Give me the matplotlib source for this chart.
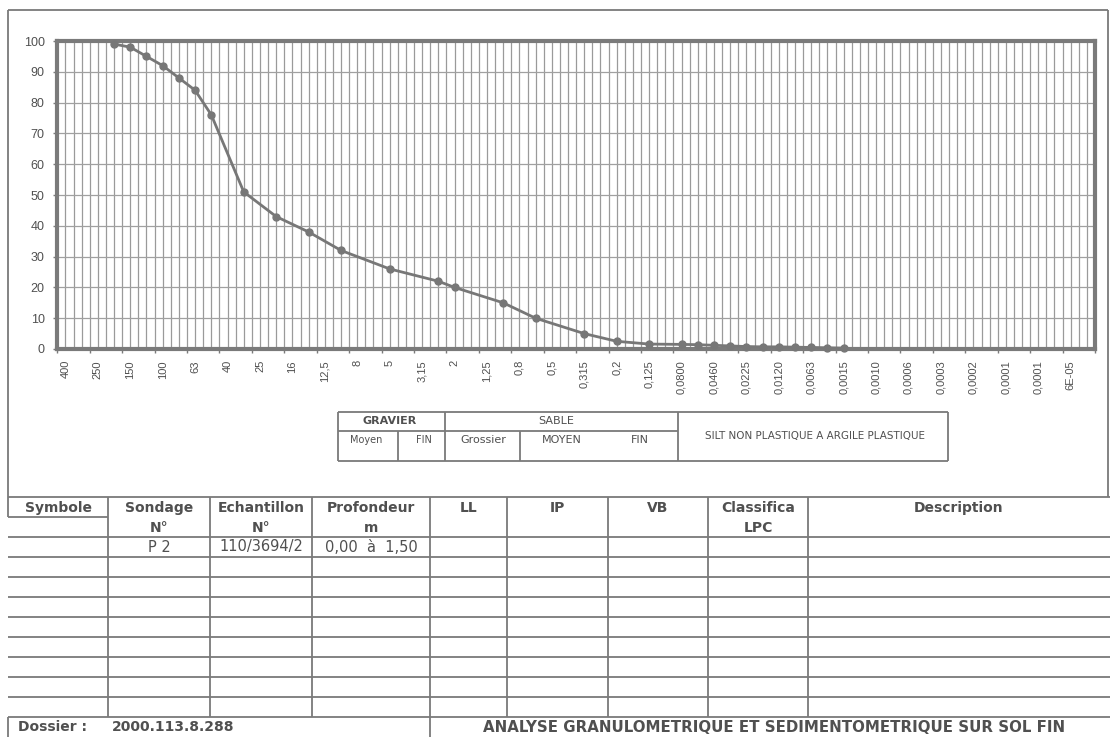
import matplotlib.pyplot as plt
from matplotlib.ticker import FixedLocator, NullFormatter

plt.rcParams["font.family"] = ["Liberation Sans", "DejaVu Sans"]

# Data: categories (sieve sizes, mm) shown every 4th category on the axis
size_labels = ["400", "250", "150", "100", "63", "40", "25", "16", "12,5", "8", "5",
               "3,15", "2", "1,25", "0,8", "0,5", "0,315", "0,2", "0,125", "0,0800",
               "0,0460", "0,0225", "0,0120", "0,0063", "0,0015", "0,0010", "0,0006",
               "0,0003", "0,0002", "0,0001", "0,0001", "6E-05"]
n_categories = 128

# passing (%) at category index
point_idx = [7, 9, 11, 13, 15, 17, 19, 23, 27, 31, 35, 41, 47, 49, 55, 59, 65, 69,
             73, 77, 79, 81, 83, 85, 87, 89, 91, 93, 95, 97]
passing = [99, 98, 95, 92, 88, 84, 76, 51, 43, 38, 32, 26, 22, 20, 15, 10, 5, 2.5,
           1.6, 1.5, 1.4, 1.2, 1.0, 0.8, 0.7, 0.7, 0.6, 0.5, 0.4, 0.3]

# Table content
col_edges = [8, 108, 210, 312, 430, 507, 608, 708, 808, 1110]
headers = [("Symbole", ""), ("Sondage", "N°"), ("Echantillon", "N°"),
           ("Profondeur", "m"), ("LL", ""), ("IP", ""), ("VB", ""),
           ("Classifica", "LPC"), ("Description", "")]
sample_row = ["", "P 2", "110/3694/2", "0,00  à  1,50", "", "", "", "", ""]
n_rows = 9
dossier = "2000.113.8.288"
title = "ANALYSE GRANULOMETRIQUE ET SEDIMENTOMETRIQUE SUR SOL FIN"

W, H = 1110, 737
GREY = "#7a7a7a"
TXT = "#505050"
WIDE = ["DejaVu Sans"]  # the scanned form uses a wide lettering

fig = plt.figure(figsize=(W / 100, H / 100), dpi=100)

# --- chart ---
ax = fig.add_axes([57.3 / W, 1 - 349 / H, (1095 - 57.3) / W, (349 - 41) / H])
ax.set_xlim(0, n_categories)
ax.set_ylim(0, 100)
for j in range(1, n_categories):
    ax.axvline(j, color="#9a9a9a", lw=0.9, zorder=1)
for v in range(10, 100, 10):
    ax.axhline(v, color="#a0a0a0", lw=0.9, zorder=1)
ax.plot(point_idx, passing, color="#777777", lw=2.0, marker="o", ms=5,
        mfc="#777777", mec="#777777", zorder=3, clip_on=False)

ax.set_yticks(range(0, 101, 10))
ax.tick_params(axis="y", length=3, width=1, color=GREY, labelsize=9,
               labelcolor=TXT, pad=6)
ax.xaxis.set_major_locator(FixedLocator([1 + 4 * k for k in range(len(size_labels))]))
ax.set_xticklabels(size_labels, rotation=90, fontsize=8, color=TXT)
ax.xaxis.set_minor_locator(FixedLocator(range(0, n_categories + 1, 4)))
ax.xaxis.set_minor_formatter(NullFormatter())
ax.tick_params(axis="x", which="major", length=0, pad=8)
ax.tick_params(axis="x", which="minor", length=3, width=1, color=GREY)
for s in ax.spines.values():
    s.set_color(GREY)
    s.set_linewidth(3)

# --- page overlay in pixel coordinates ---
pg = fig.add_axes([0, 0, 1, 1])
pg.set_xlim(0, W)
pg.set_ylim(H, 0)
pg.axis("off")
pg.patch.set_alpha(0)
LW = 1.3


def hline(y, x0, x1, lw=LW):
    pg.plot([x0, x1], [y, y], color=GREY, lw=lw, solid_capstyle="butt")


def vline(x, y0, y1, lw=LW):
    pg.plot([x, x], [y0, y1], color=GREY, lw=lw, solid_capstyle="butt")


def label(x, y, s, size, bold=False, ha="center"):
    pg.text(x, y, s, ha=ha, va="center", fontsize=size, family=WIDE,
            weight="bold" if bold else "normal", color=TXT)


# chart frame
hline(10, 8, 1108)
vline(8, 10, 517)
vline(1108, 10, 497)

# soil classes box
hline(412, 338, 948)
hline(431, 338, 678)
hline(461, 338, 948)
vline(338, 412, 461)
vline(445, 412, 461)
vline(678, 412, 461)
vline(948, 412, 461)
vline(398, 431, 461)
vline(520, 431, 461)
label(390, 421, "GRAVIER", 8, bold=True)
label(556, 421, "SABLE", 8)
label(366, 440, "Moyen", 7)
label(424, 440, "FIN", 7)
label(483, 440, "Grossier", 8)
label(562, 440, "MOYEN", 8)
label(640, 440, "FIN", 8)
label(815, 436, "SILT NON PLASTIQUE A ARGILE PLASTIQUE", 7.5)

# bottom table
top, head_bot, row_h = 497, 537, 20
hline(top, 8, 1110)
hline(517, 8, 108)
for r in range(n_rows + 1):
    hline(head_bot + r * row_h, 8, 1110)
tab_bot = head_bot + n_rows * row_h
for x in col_edges[1:-1]:
    vline(x, top, tab_bot)
for i, (h1, h2) in enumerate(headers):
    cx = (col_edges[i] + col_edges[i + 1]) / 2
    label(cx, 508, h1, 10, bold=True)
    if h2:
        label(cx, 528, h2, 10, bold=True)
    if sample_row[i]:
        label(cx, 547, sample_row[i], 10.5)

# footer
vline(8, tab_bot, H)
vline(430, tab_bot, H)
label(18, 727, "Dossier :", 10, bold=True, ha="left")
label(112, 727, dossier, 10, bold=True, ha="left")
label(774, 727, title, 10.8, bold=True)

fig.savefig("out.png", dpi=100)
